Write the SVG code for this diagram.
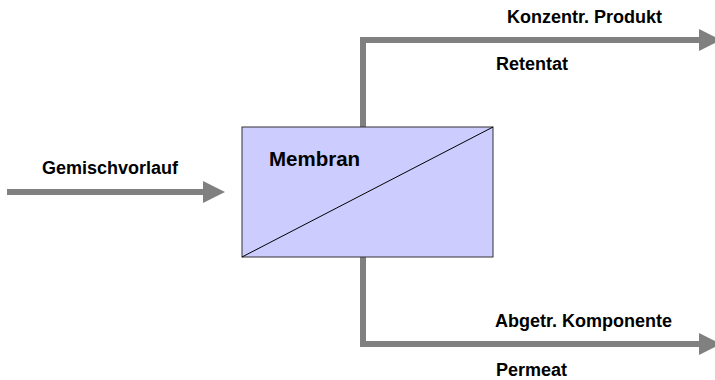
<svg xmlns="http://www.w3.org/2000/svg" width="715" height="380" viewBox="0 0 715 380">
  <style>
    .lbl { font-family: "Liberation Sans", Arial, sans-serif; font-weight: bold; font-size: 18px; fill: #000; }
    .big { font-size: 20.5px; }
    .flow { fill: none; stroke: #808080; stroke-width: 6; }
  </style>
  <defs>
    <marker id="head" markerUnits="userSpaceOnUse" markerWidth="24" markerHeight="24" refX="0" refY="11" orient="auto">
      <path d="M0,0 L22,11 L0,22 Z" fill="#808080"/>
    </marker>
  </defs>
  <rect width="715" height="380" fill="#fff"/>

  <g id="connectors">
    <path class="flow" d="M7,192 L203,192" marker-end="url(#head)"/>
    <path class="flow" d="M363,127 L363,40 L699,40" marker-end="url(#head)"/>
    <path class="flow" d="M363,257 L363,344 L699,344" marker-end="url(#head)"/>
  </g>

  <g id="membran">
    <rect x="242" y="127" width="251" height="130" fill="#CCCCFF" stroke="#333" stroke-width="1"/>
    <line x1="242" y1="257" x2="493" y2="127" stroke="#000" stroke-width="1"/>
    <text class="lbl big" x="269" y="166">Membran</text>
  </g>

  <g id="labels">
    <text class="lbl" x="42" y="174">Gemischvorlauf</text>
    <text class="lbl" x="507" y="22.5">Konzentr. Produkt</text>
    <text class="lbl" x="496" y="70">Retentat</text>
    <text class="lbl" x="495" y="327">Abgetr. Komponente</text>
    <text class="lbl" x="496" y="376">Permeat</text>
  </g>
</svg>
